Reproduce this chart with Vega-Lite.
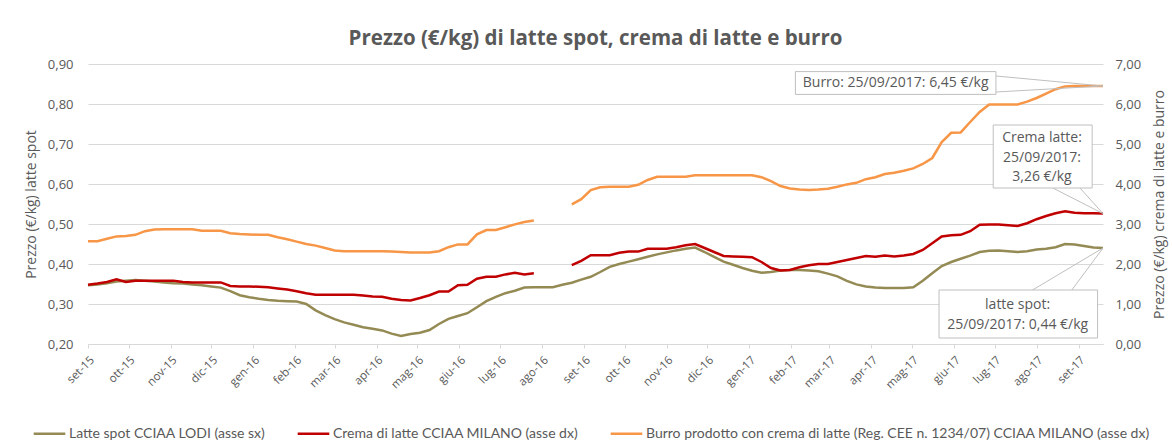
{
"$schema": "https://vega.github.io/schema/vega-lite/v6.json",
"width": 1015, "height": 280,
"autosize": {"type": "none"},
"padding": {"left": 88, "top": 64, "right": 69, "bottom": 101},
"background": "white",
"config": {"view": {"stroke": null}},
"title": {"text": "Prezzo (€/kg) di latte spot, crema di latte e burro", "font": "Open Sans", "fontSize": 20.5, "fontWeight": "bold", "color": "#595959", "anchor": "middle", "offset": 9},
"data": {"values": [
{"d":"2015-09-07","latte":0.347,"crema":1.48,"burro":2.57,"tratto":1},
{"d":"2015-09-14","latte":0.349,"crema":1.51,"burro":2.57,"tratto":1},
{"d":"2015-09-21","latte":0.352,"crema":1.55,"burro":2.63,"tratto":1},
{"d":"2015-09-28","latte":0.356,"crema":1.62,"burro":2.69,"tratto":1},
{"d":"2015-10-05","latte":0.358,"crema":1.55,"burro":2.70,"tratto":1},
{"d":"2015-10-12","latte":0.360,"crema":1.58,"burro":2.73,"tratto":1},
{"d":"2015-10-19","latte":0.358,"crema":1.58,"burro":2.82,"tratto":1},
{"d":"2015-10-26","latte":0.356,"crema":1.58,"burro":2.86,"tratto":1},
{"d":"2015-11-02","latte":0.354,"crema":1.58,"burro":2.87,"tratto":1},
{"d":"2015-11-09","latte":0.352,"crema":1.58,"burro":2.87,"tratto":1},
{"d":"2015-11-16","latte":0.351,"crema":1.55,"burro":2.87,"tratto":1},
{"d":"2015-11-23","latte":0.349,"crema":1.54,"burro":2.87,"tratto":1},
{"d":"2015-11-30","latte":0.347,"crema":1.54,"burro":2.83,"tratto":1},
{"d":"2015-12-07","latte":0.344,"crema":1.54,"burro":2.83,"tratto":1},
{"d":"2015-12-14","latte":0.341,"crema":1.54,"burro":2.83,"tratto":1},
{"d":"2015-12-21","latte":0.332,"crema":1.45,"burro":2.77,"tratto":1},
{"d":"2015-12-28","latte":0.322,"crema":1.44,"burro":2.75,"tratto":1},
{"d":"2016-01-04","latte":0.317,"crema":1.44,"burro":2.74,"tratto":1},
{"d":"2016-01-11","latte":0.313,"crema":1.43,"burro":2.73,"tratto":1},
{"d":"2016-01-18","latte":0.310,"crema":1.42,"burro":2.73,"tratto":1},
{"d":"2016-01-25","latte":0.308,"crema":1.39,"burro":2.67,"tratto":1},
{"d":"2016-02-01","latte":0.307,"crema":1.36,"burro":2.62,"tratto":1},
{"d":"2016-02-08","latte":0.306,"crema":1.32,"burro":2.56,"tratto":1},
{"d":"2016-02-15","latte":0.300,"crema":1.27,"burro":2.50,"tratto":1},
{"d":"2016-02-22","latte":0.284,"crema":1.23,"burro":2.46,"tratto":1},
{"d":"2016-02-29","latte":0.272,"crema":1.23,"burro":2.40,"tratto":1},
{"d":"2016-03-07","latte":0.262,"crema":1.23,"burro":2.34,"tratto":1},
{"d":"2016-03-14","latte":0.254,"crema":1.23,"burro":2.32,"tratto":1},
{"d":"2016-03-21","latte":0.248,"crema":1.23,"burro":2.32,"tratto":1},
{"d":"2016-03-28","latte":0.242,"crema":1.21,"burro":2.32,"tratto":1},
{"d":"2016-04-04","latte":0.238,"crema":1.19,"burro":2.32,"tratto":1},
{"d":"2016-04-11","latte":0.234,"crema":1.18,"burro":2.32,"tratto":1},
{"d":"2016-04-18","latte":0.226,"crema":1.13,"burro":2.31,"tratto":1},
{"d":"2016-04-25","latte":0.220,"crema":1.10,"burro":2.30,"tratto":1},
{"d":"2016-05-02","latte":0.225,"crema":1.09,"burro":2.29,"tratto":1},
{"d":"2016-05-09","latte":0.228,"crema":1.15,"burro":2.29,"tratto":1},
{"d":"2016-05-16","latte":0.235,"crema":1.22,"burro":2.29,"tratto":1},
{"d":"2016-05-23","latte":0.250,"crema":1.31,"burro":2.32,"tratto":1},
{"d":"2016-05-30","latte":0.263,"crema":1.31,"burro":2.42,"tratto":1},
{"d":"2016-06-06","latte":0.270,"crema":1.47,"burro":2.49,"tratto":1},
{"d":"2016-06-13","latte":0.277,"crema":1.48,"burro":2.49,"tratto":1},
{"d":"2016-06-20","latte":0.292,"crema":1.63,"burro":2.74,"tratto":1},
{"d":"2016-06-27","latte":0.307,"crema":1.68,"burro":2.85,"tratto":1},
{"d":"2016-07-04","latte":0.318,"crema":1.68,"burro":2.85,"tratto":1},
{"d":"2016-07-11","latte":0.327,"crema":1.74,"burro":2.92,"tratto":1},
{"d":"2016-07-18","latte":0.333,"crema":1.78,"burro":2.99,"tratto":1},
{"d":"2016-07-25","latte":0.341,"crema":1.74,"burro":3.05,"tratto":1},
{"d":"2016-08-01","latte":0.342,"crema":1.77,"burro":3.09,"tratto":1},
{"d":"2016-08-08","latte":0.342,"crema":null,"burro":null,"tratto":1},
{"d":"2016-08-15","latte":0.342,"crema":null,"burro":null,"tratto":1},
{"d":"2016-08-22","latte":0.348,"crema":null,"burro":null,"tratto":2},
{"d":"2016-08-29","latte":0.353,"crema":1.97,"burro":3.49,"tratto":2},
{"d":"2016-09-05","latte":0.361,"crema":2.08,"burro":3.62,"tratto":2},
{"d":"2016-09-12","latte":0.368,"crema":2.22,"burro":3.85,"tratto":2},
{"d":"2016-09-19","latte":0.380,"crema":2.22,"burro":3.92,"tratto":2},
{"d":"2016-09-26","latte":0.393,"crema":2.22,"burro":3.93,"tratto":2},
{"d":"2016-10-03","latte":0.400,"crema":2.28,"burro":3.93,"tratto":2},
{"d":"2016-10-10","latte":0.406,"crema":2.31,"burro":3.93,"tratto":2},
{"d":"2016-10-17","latte":0.412,"crema":2.31,"burro":3.98,"tratto":2},
{"d":"2016-10-24","latte":0.418,"crema":2.38,"burro":4.10,"tratto":2},
{"d":"2016-10-31","latte":0.424,"crema":2.38,"burro":4.18,"tratto":2},
{"d":"2016-11-07","latte":0.429,"crema":2.38,"burro":4.18,"tratto":2},
{"d":"2016-11-14","latte":0.434,"crema":2.42,"burro":4.18,"tratto":2},
{"d":"2016-11-21","latte":0.438,"crema":2.47,"burro":4.18,"tratto":2},
{"d":"2016-11-28","latte":0.441,"crema":2.50,"burro":4.22,"tratto":2},
{"d":"2016-12-05","latte":0.430,"crema":2.40,"burro":4.22,"tratto":2},
{"d":"2016-12-12","latte":0.418,"crema":2.30,"burro":4.22,"tratto":2},
{"d":"2016-12-19","latte":0.406,"crema":2.20,"burro":4.22,"tratto":2},
{"d":"2016-12-26","latte":0.398,"crema":2.19,"burro":4.22,"tratto":2},
{"d":"2017-01-02","latte":0.390,"crema":2.18,"burro":4.22,"tratto":2},
{"d":"2017-01-09","latte":0.383,"crema":2.17,"burro":4.22,"tratto":2},
{"d":"2017-01-16","latte":0.378,"crema":2.05,"burro":4.17,"tratto":2},
{"d":"2017-01-23","latte":0.380,"crema":1.90,"burro":4.07,"tratto":2},
{"d":"2017-01-30","latte":0.384,"crema":1.84,"burro":3.95,"tratto":2},
{"d":"2017-02-06","latte":0.385,"crema":1.85,"burro":3.89,"tratto":2},
{"d":"2017-02-13","latte":0.385,"crema":1.92,"burro":3.86,"tratto":2},
{"d":"2017-02-20","latte":0.384,"crema":1.97,"burro":3.85,"tratto":2},
{"d":"2017-02-27","latte":0.382,"crema":2.00,"burro":3.86,"tratto":2},
{"d":"2017-03-06","latte":0.376,"crema":2.00,"burro":3.88,"tratto":2},
{"d":"2017-03-13","latte":0.369,"crema":2.05,"burro":3.93,"tratto":2},
{"d":"2017-03-20","latte":0.358,"crema":2.10,"burro":3.99,"tratto":2},
{"d":"2017-03-27","latte":0.349,"crema":2.15,"burro":4.03,"tratto":2},
{"d":"2017-04-03","latte":0.344,"crema":2.20,"burro":4.12,"tratto":2},
{"d":"2017-04-10","latte":0.341,"crema":2.18,"burro":4.17,"tratto":2},
{"d":"2017-04-17","latte":0.340,"crema":2.21,"burro":4.25,"tratto":2},
{"d":"2017-04-24","latte":0.340,"crema":2.19,"burro":4.28,"tratto":2},
{"d":"2017-05-01","latte":0.340,"crema":2.21,"burro":4.33,"tratto":2},
{"d":"2017-05-08","latte":0.342,"crema":2.25,"burro":4.39,"tratto":2},
{"d":"2017-05-15","latte":0.358,"crema":2.35,"burro":4.50,"tratto":2},
{"d":"2017-05-22","latte":0.377,"crema":2.52,"burro":4.65,"tratto":2},
{"d":"2017-05-29","latte":0.395,"crema":2.69,"burro":5.05,"tratto":2},
{"d":"2017-06-05","latte":0.405,"crema":2.72,"burro":5.28,"tratto":2},
{"d":"2017-06-12","latte":0.413,"crema":2.73,"burro":5.29,"tratto":2},
{"d":"2017-06-19","latte":0.421,"crema":2.82,"burro":5.55,"tratto":2},
{"d":"2017-06-26","latte":0.430,"crema":2.98,"burro":5.80,"tratto":2},
{"d":"2017-07-03","latte":0.433,"crema":2.99,"burro":5.99,"tratto":2},
{"d":"2017-07-10","latte":0.434,"crema":2.99,"burro":5.99,"tratto":2},
{"d":"2017-07-17","latte":0.432,"crema":2.97,"burro":5.99,"tratto":2},
{"d":"2017-07-24","latte":0.430,"crema":2.95,"burro":5.99,"tratto":2},
{"d":"2017-07-31","latte":0.432,"crema":3.02,"burro":6.06,"tratto":2},
{"d":"2017-08-07","latte":0.436,"crema":3.12,"burro":6.15,"tratto":2},
{"d":"2017-08-14","latte":0.438,"crema":3.20,"burro":6.26,"tratto":2},
{"d":"2017-08-21","latte":0.442,"crema":3.27,"burro":6.37,"tratto":2},
{"d":"2017-08-28","latte":0.450,"crema":3.32,"burro":6.44,"tratto":2},
{"d":"2017-09-04","latte":0.449,"crema":3.28,"burro":6.45,"tratto":2},
{"d":"2017-09-11","latte":0.445,"crema":3.27,"burro":6.45,"tratto":2},
{"d":"2017-09-18","latte":0.441,"crema":3.27,"burro":6.45,"tratto":2},
{"d":"2017-09-25","latte":0.440,"crema":3.26,"burro":6.45,"tratto":2}
]},
"encoding": {
  "x": {"field": "d", "type": "temporal",
    "scale": {"type": "utc", "domain": [{"year":2015,"month":9,"date":7,"utc":true},{"year":2017,"month":9,"date":25,"utc":true}], "nice": false},
    "axis": {"title": null, "grid": false,
      "values": [
        {"year":2015,"month":9,"date":7,"utc":true},{"year":2015,"month":10,"date":7,"utc":true},{"year":2015,"month":11,"date":7,"utc":true},{"year":2015,"month":12,"date":7,"utc":true},
        {"year":2016,"month":1,"date":7,"utc":true},{"year":2016,"month":2,"date":7,"utc":true},{"year":2016,"month":3,"date":7,"utc":true},{"year":2016,"month":4,"date":7,"utc":true},
        {"year":2016,"month":5,"date":7,"utc":true},{"year":2016,"month":6,"date":7,"utc":true},{"year":2016,"month":7,"date":7,"utc":true},{"year":2016,"month":8,"date":7,"utc":true},
        {"year":2016,"month":9,"date":7,"utc":true},{"year":2016,"month":10,"date":7,"utc":true},{"year":2016,"month":11,"date":7,"utc":true},{"year":2016,"month":12,"date":7,"utc":true},
        {"year":2017,"month":1,"date":7,"utc":true},{"year":2017,"month":2,"date":7,"utc":true},{"year":2017,"month":3,"date":7,"utc":true},{"year":2017,"month":4,"date":7,"utc":true},
        {"year":2017,"month":5,"date":7,"utc":true},{"year":2017,"month":6,"date":7,"utc":true},{"year":2017,"month":7,"date":7,"utc":true},{"year":2017,"month":8,"date":7,"utc":true},
        {"year":2017,"month":9,"date":7,"utc":true}],
      "labelExpr": "['gen','feb','mar','apr','mag','giu','lug','ago','set','ott','nov','dic'][utcmonth(datum.value)] + '-' + utcFormat(datum.value, '%y')",
      "labelAngle": -45, "labelAlign": "right", "labelBaseline": "top", "labelPadding": 6,
      "labelOverlap": false, "labelFlush": false, "labelBound": false,
      "labelFont": "Open Sans", "labelFontSize": 11.5, "labelColor": "#595959",
      "tickSize": 4, "tickColor": "#D9D9D9", "domainColor": "#D9D9D9"}
  }
},
"layer": [
  {
    "mark": {"type": "line", "strokeWidth": 2.5},
    "encoding": {
      "y": {"field": "latte", "type": "quantitative",
        "scale": {"domain": [0.2, 0.9], "nice": false, "zero": false},
        "axis": {"orient": "left", "title": "Prezzo (€/kg) latte spot", "values": [0.2,0.3,0.4,0.5,0.6,0.7,0.8,0.9],
          "labelExpr": "replace(format(datum.value, '.2f'), '.', ',')", "labelOverlap": false,
          "grid": true, "gridColor": "#D9D9D9", "domain": false, "ticks": false, "tickSize": 0, "labelPadding": 15,
          "labelFont": "Open Sans", "labelFontSize": 13, "labelColor": "#595959",
          "titleFont": "Open Sans", "titleFontSize": 14, "titleFontWeight": "normal", "titleColor": "#595959", "titlePadding": 9}},
      "color": {"datum": "Latte spot CCIAA LODI (asse sx)", "type": "nominal",
        "scale": {"domain": ["Latte spot CCIAA LODI (asse sx)", "Crema di latte CCIAA MILANO (asse dx)", "Burro prodotto con crema di latte (Reg. CEE n. 1234/07) CCIAA MILANO (asse dx)"],
                  "range": ["#948A54", "#C00000", "#F79646"]},
        "legend": {"orient": "none", "legendX": -56, "legendY": 352, "direction": "horizontal", "title": null, "symbolType": "stroke", "symbolSize": 1000, "symbolStrokeWidth": 2.5,
          "labelFont": "Lato", "labelFontSize": 14, "labelColor": "#595959", "labelLimit": 700, "columnPadding": 26, "labelOffset": 2}}
    }
  },
  {
    "layer": [
      {
        "transform": [{"filter": "datum.crema != null"}],
        "mark": {"type": "line", "strokeWidth": 2.5},
        "encoding": {
          "y": {"field": "crema", "type": "quantitative",
            "scale": {"domain": [0, 7], "nice": false, "zero": false},
            "axis": {"orient": "right", "title": "Prezzo (€/kg) crema di latte e burro", "values": [0,1,2,3,4,5,6,7], "tickCount": 8,
              "labelExpr": "replace(format(datum.value, '.2f'), '.', ',')", "labelOverlap": false,
              "grid": false, "domain": false, "ticks": false, "tickSize": 0, "labelPadding": 12,
              "labelFont": "Open Sans", "labelFontSize": 13, "labelColor": "#595959",
              "titleFont": "Open Sans", "titleFontSize": 14, "titleFontWeight": "normal", "titleColor": "#595959", "titlePadding": 12,
              "titleAngle": 270, "titleBaseline": "top"}},
          "color": {"datum": "Crema di latte CCIAA MILANO (asse dx)", "type": "nominal"},
          "detail": {"field": "tratto", "type": "nominal"}
        }
      },
      {
        "transform": [{"filter": "datum.burro != null"}],
        "mark": {"type": "line", "strokeWidth": 2.5},
        "encoding": {
          "y": {"field": "burro", "type": "quantitative", "axis": {"orient": "right", "title": "Prezzo (€/kg) crema di latte e burro", "values": [0,1,2,3,4,5,6,7], "tickCount": 8,
              "labelExpr": "replace(format(datum.value, '.2f'), '.', ',')", "labelOverlap": false,
              "grid": false, "domain": false, "ticks": false, "tickSize": 0, "labelPadding": 12,
              "labelFont": "Open Sans", "labelFontSize": 13, "labelColor": "#595959",
              "titleFont": "Open Sans", "titleFontSize": 14, "titleFontWeight": "normal", "titleColor": "#595959", "titlePadding": 12,
              "titleAngle": 270, "titleBaseline": "top"}},
          "color": {"datum": "Burro prodotto con crema di latte (Reg. CEE n. 1234/07) CCIAA MILANO (asse dx)", "type": "nominal"},
          "detail": {"field": "tratto", "type": "nominal"}
        }
      }
    ]
  },
  {
    "layer": [
      {"data": {"values": [
         {"da": "2017-07-08", "va": 6.7, "db": "2017-09-25", "vb": 6.45},
         {"da": "2017-07-08", "va": 6.3, "db": "2017-09-25", "vb": 6.45},
         {"da": "2017-08-19", "va": 3.9, "db": "2017-09-25", "vb": 3.26},
         {"da": "2017-09-08", "va": 3.9, "db": "2017-09-25", "vb": 3.26},
         {"da": "2017-08-04", "va": 1.35, "db": "2017-09-25", "vb": 2.4},
         {"da": "2017-09-02", "va": 1.35, "db": "2017-09-25", "vb": 2.4}]},
       "mark": {"type": "rule", "color": "#BFBFBF", "strokeWidth": 1},
       "encoding": {"x": {"field": "da", "type": "temporal"}, "x2": {"field": "db"},
                    "y": {"field": "va", "type": "quantitative", "scale": {"domain": [0, 7], "nice": false, "zero": false}, "axis": null}, "y2": {"field": "vb"}}},
      {"data": {"values": [
         {"da": "2017-02-10", "db": "2017-07-08", "va": 6.81, "vb": 6.24},
         {"da": "2017-07-06", "db": "2017-09-17", "va": 5.475, "vb": 3.9},
         {"da": "2017-05-27", "db": "2017-09-21", "va": 1.35, "vb": 0.15}]},
       "mark": {"type": "rect", "fill": "white", "stroke": "#BFBFBF", "strokeWidth": 1},
       "encoding": {"x": {"field": "da", "type": "temporal"}, "x2": {"field": "db"},
                    "y": {"field": "va", "type": "quantitative", "axis": null}, "y2": {"field": "vb"}}},
      {"data": {"values": [
         {"dt": "2017-04-25", "vt": 6.53, "testo": ["Burro: 25/09/2017: 6,45 €/kg"]},
         {"dt": "2017-08-11", "vt": 5.14, "testo": ["Crema latte:", "25/09/2017:", "3,26 €/kg"]},
         {"dt": "2017-07-24", "vt": 0.975, "testo": ["latte spot:", "25/09/2017: 0,44 €/kg"]}]},
       "mark": {"type": "text", "lineHeight": 19.5, "font": "Open Sans", "fontSize": 14, "color": "#595959", "align": "center", "baseline": "middle"},
       "encoding": {"x": {"field": "dt", "type": "temporal"}, "y": {"field": "vt", "type": "quantitative", "axis": null},
                    "text": {"field": "testo", "type": "nominal"}}}
    ]
  }
],
"resolve": {"scale": {"y": "independent"}}
}
